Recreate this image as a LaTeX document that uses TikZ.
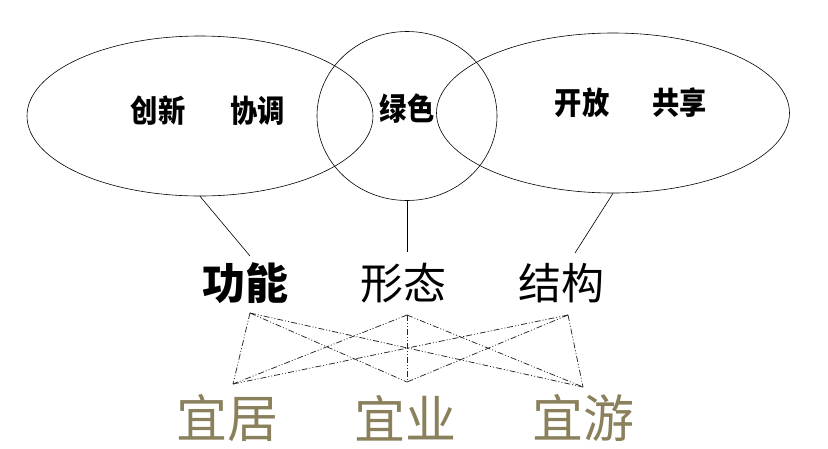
\documentclass[tikz,border=0pt]{standalone}
\usepackage{fontspec}
\usepackage{tikz}
\usetikzlibrary{shapes.geometric, positioning}
\newfontfamily\cjk{Noto Sans CJK SC}
\newfontfamily\cjkbold{Noto Sans CJK SC Black}
\definecolor{yiOlive}{RGB}{138,128,92}
\newcommand{\narrow}[1]{\scalebox{0.88}[1]{#1}}

\begin{document}
\begin{tikzpicture}[
    x=1pt, y=-1pt,
    ring/.style={draw, ellipse, line width=0.6pt, inner sep=0pt},
    idea/.style={font=\cjkbold\fontsize{31}{31}\selectfont, inner sep=0pt},
    aspect/.style={font=\cjk\fontsize{43}{43}\selectfont, inner sep=0pt},
    goal/.style={font=\cjk\fontsize{51}{51}\selectfont, text=yiOlive, inner sep=0pt},
    link/.style={line width=0.6pt},
    mesh/.style={line width=0.75pt, color=black!85, dash pattern=on 6pt off 2pt on 1pt off 2pt on 1pt off 2pt}
]
\useasboundingbox (0,0) rectangle (828,448);

% three ellipses of the five ideas
\node[ring, minimum width=346, minimum height=160] (left)  at (200,116) {};
\node[ring, minimum width=180, minimum height=169] (mid)   at (407,116) {};
\node[ring, minimum width=353, minimum height=160] (right) at (613,113) {};

\node[idea] (innov) at (208,111) {\narrow{创新}\hspace{1.45em}\narrow{协调}};
\node[idea] (green) at (407,109) {\narrow{绿色}};
\node[idea] (open)  at (631,103) {\narrow{开放}\hspace{1.4em}\narrow{共享}};

% aspects
\node[aspect, font=\cjkbold\fontsize{43}{43}\selectfont] (func) at (245,283) {功能};
\node[aspect] (form)   at (403,283) {形态};
\node[aspect] (struct) at (561,283) {结构};

% goals
\node[goal] (live) at (227,418) {宜居};
\node[goal] (work) at (405,418) {宜业};
\node[goal] (tour) at (583,418) {宜游};

\draw[link] (left.south)  -- (250,256);
\draw[link] (mid.south)   -- (407,252);
\draw[link] (right.south) -- (575,253);

\coordinate (t1) at (250,313);
\coordinate (t2) at (407,315);
\coordinate (t3) at (568,315);
\coordinate (b1) at (233,384);
\coordinate (b2) at (407,382);
\coordinate (b3) at (583,387);

\foreach \t in {t1,t2,t3}
  \foreach \b in {b1,b2,b3}
    \draw[mesh] (\t) -- (\b);
\end{tikzpicture}
\end{document}
